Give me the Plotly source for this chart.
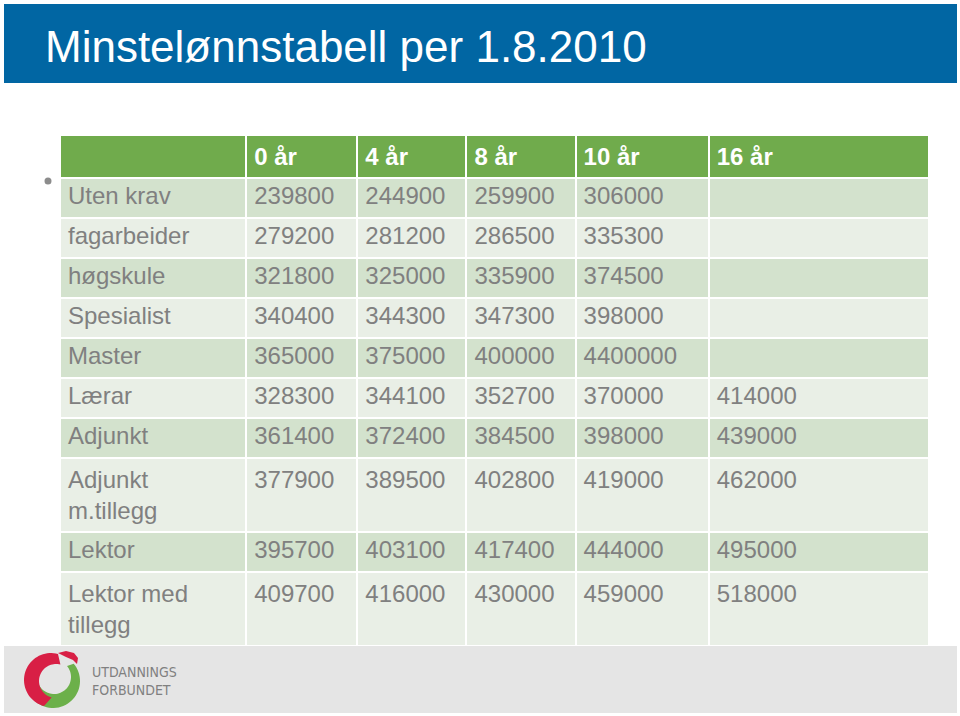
import numpy as np
import plotly.graph_objects as go

W, H = 960, 716

# ---------------- data ----------------
title = "Minstelønnstabell per 1.8.2010"
columns = ["0 år", "4 år", "8 år", "10 år", "16 år"]
categories = ["Uten krav", "fagarbeider", "høgskule", "Spesialist", "Master",
              "Lærar", "Adjunkt", "Adjunkt<br>m.tillegg", "Lektor", "Lektor med<br>tillegg"]
years_0 = [239800, 279200, 321800, 340400, 365000, 328300, 361400, 377900, 395700, 409700]
years_4 = [244900, 281200, 325000, 344300, 375000, 344100, 372400, 389500, 403100, 416000]
years_8 = [259900, 286500, 335900, 347300, 400000, 352700, 384500, 402800, 417400, 430000]
years_10 = [306000, 335300, 374500, 398000, 4400000, 370000, 398000, 419000, 444000, 459000]
years_16 = [None, None, None, None, None, 414000, 439000, 462000, 495000, 518000]

# ---------------- styling ----------------
BLUE = "#0166a3"
GREEN = "#70ab4c"
ROW_DARK = "#d3e2cd"
ROW_LIGHT = "#e9efe6"
TEXT_GRAY = "#808080"
FONT = "Liberation Sans, Arial, sans-serif"


def px(x):
    return x / W


def py(y):
    return 1 - y / H


def fmt(v, label):
    s = "" if v is None else str(v)
    # keep every cell of a two-line row two lines tall so first lines align
    if "<br>" in label:
        s = s + "<br> "
    return s


series = [years_0, years_4, years_8, years_10, years_16]
cell_values = [categories] + [[fmt(v, lab) for v, lab in zip(s, categories)] for s in series]
row_fill = [ROW_DARK if i % 2 == 0 else ROW_LIGHT for i in range(len(categories))]

table = go.Table(
    domain=dict(x=[px(60), px(929)], y=[py(646), py(135)]),
    columnwidth=[186, 111, 109, 109, 133, 220],
    header=dict(
        values=[""] + [f"<b>{c}</b>" for c in columns],
        fill=dict(color=GREEN),
        line=dict(color="white", width=2),
        font=dict(family=FONT, size=24, color="white"),
        align="left",
        height=40,
    ),
    cells=dict(
        values=cell_values,
        fill=dict(color=[row_fill] * len(cell_values)),
        line=dict(color="white", width=2),
        font=dict(family=FONT, size=24, color=TEXT_GRAY),
        align="left",
        height=40,
    ),
)

fig = go.Figure(table)

shapes = []
# title bar
shapes.append(dict(type="rect", xref="paper", yref="paper",
                   x0=px(4), x1=px(957), y0=py(83), y1=py(4),
                   fillcolor=BLUE, line=dict(width=0), layer="below"))
# footer band
shapes.append(dict(type="rect", xref="paper", yref="paper",
                   x0=px(4), x1=px(957), y0=py(713), y1=py(646),
                   fillcolor="#e5e5e5", line=dict(width=0), layer="below"))
# bullet
shapes.append(dict(type="circle", xref="paper", yref="paper",
                   x0=px(44.5), x1=px(51.5), y0=py(184.5), y1=py(177.5),
                   fillcolor="#8c8c8c", line=dict(width=0)))


def crescent(cx_o, cy_o, r_o, cx_i, cy_i, r_i, a0, a1, n=40):
    t = np.radians(np.linspace(a0, a1, n))
    outer = [(cx_o + r_o * np.cos(a), cy_o - r_o * np.sin(a)) for a in t]
    inner = [(cx_i + r_i * np.cos(a), cy_i - r_i * np.sin(a)) for a in t[::-1]]
    pts = outer + inner
    d = "M " + " L ".join(f"{px(x):.5f},{py(y):.5f}" for x, y in pts) + " Z"
    return d


# logo: green lower-right ring, red upper-left ring
shapes.append(dict(type="path", xref="paper", yref="paper",
                   path=crescent(53, 681, 27, 54, 677, 17, 200, 400),
                   fillcolor="#6cb04a", line=dict(width=0)))
shapes.append(dict(type="path", xref="paper", yref="paper",
                   path=crescent(51, 680, 27, 56, 681, 17, 75, 255),
                   fillcolor="#d81f45", line=dict(width=0)))
# red swoosh tail
tail = [(58, 653), (66, 651), (74, 653), (78, 658), (77, 664), (73, 660), (66, 657)]
shapes.append(dict(type="path", xref="paper", yref="paper",
                   path="M " + " L ".join(f"{px(x):.5f},{py(y):.5f}" for x, y in tail) + " Z",
                   fillcolor="#d81f45", line=dict(width=0)))

annotations = [
    dict(text=title, xref="paper", yref="paper", x=px(43), y=py(46),
         xanchor="left", yanchor="middle", showarrow=False,
         font=dict(family=FONT, size=44, color="white")),
    dict(text="UTDANNINGS<br>FORBUNDET", xref="paper", yref="paper",
         x=px(90), y=py(681), xanchor="left", yanchor="middle", showarrow=False,
         align="left",
         font=dict(family="Liberation Sans Narrow, DejaVu Sans Condensed, Liberation Sans",
                   size=14, color="#808080")),
]

fig.update_layout(
    width=W, height=H,
    margin=dict(l=0, r=0, t=0, b=0),
    paper_bgcolor="white",
    plot_bgcolor="white",
    shapes=shapes,
    annotations=annotations,
    showlegend=False,
)

fig.write_html("out.html",
               config={"displayModeBar": False},
               post_script="document.body.style.margin='0';document.body.style.padding='0';")
